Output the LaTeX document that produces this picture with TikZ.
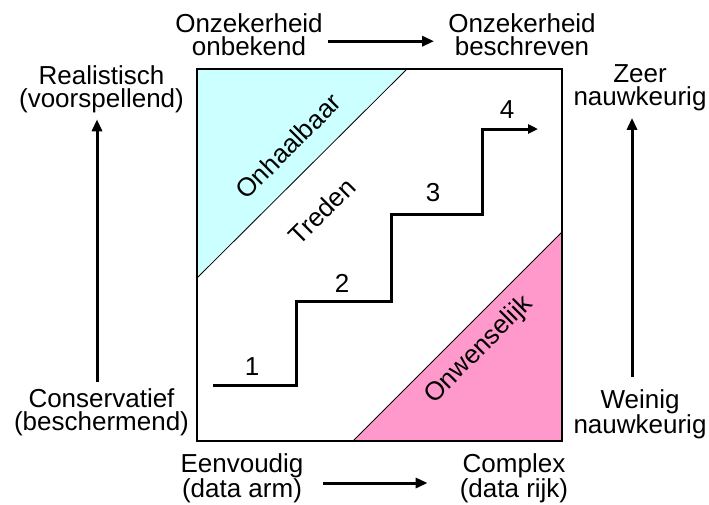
\documentclass[tikz,border=0pt]{standalone}
\usepackage{fontspec}
\setmainfont{Liberation Sans}
\usetikzlibrary{arrows.meta}
\definecolor{unreach}{RGB}{204,255,255}
\definecolor{unwanted}{RGB}{255,153,204}
\begin{document}
\begin{tikzpicture}[x=1pt,y=-1pt,
  lbl/.style={font=\fontsize{26}{23}\selectfont, align=center, inner sep=0pt},
  axisarrow/.style={line width=3pt, -{Triangle[length=12pt,width=10pt]}},
  stairline/.style={line width=3pt, line join=miter, -{Triangle[length=10pt,width=9pt]}},
  diag/.style={line width=0.8pt}]
\useasboundingbox (0,0) rectangle (709,504);

% coloured corner regions
\fill[unreach] (197,69) -- (407,69) -- (197,278) -- cycle;
\draw[diag] (407,69) -- (197,278);
\fill[unwanted] (353,441) -- (562,441) -- (562,232) -- cycle;
\draw[diag] (353,441) -- (562,232);

% frame
\draw[line width=1.8pt] (197,69) rectangle (562,441);

% region labels
\node[lbl, rotate=45] (onh) at (288,146) {Onhaalbaar};
\node[lbl, rotate=45] (tre) at (322,211) {Treden};
\node[lbl, rotate=45] (onw) at (479,350) {Onwenselijk};

% staircase
\coordinate (s0) at (213,385);
\coordinate (s1) at (296,301);
\coordinate (s2) at (391,214);
\coordinate (s3) at (482,129);
\coordinate (s4) at (538,129);
\draw[stairline] (s0) -| (s1) -| (s2) -| (s3) -- (s4);
\node[lbl] (n1) at (252,367) {1};
\node[lbl] (n2) at (342,283) {2};
\node[lbl] (n3) at (433,193) {3};
\node[lbl] (n4) at (507,110) {4};

% axis labels
\node[lbl] (tl) at (249,35.2) {Onzekerheid\\onbekend};
\node[lbl] (tr) at (522,35.2) {Onzekerheid\\beschreven};
\node[lbl] (lt) at (101.5,89) {Realistisch\\(voorspellend)};
\node[lbl] (lb) at (101.5,412) {Conservatief\\(beschermend)};
\node[lbl] (rt) at (640,88) {Zeer\\nauwkeurig};
\node[lbl] (rb) at (640,414) {Weinig\\nauwkeurig};
\node[lbl] (bl) at (242,478) {Eenvoudig\\(data arm)};
\node[lbl] (br) at (514,478) {Complex\\(data rijk)};

% axis arrows
\draw[axisarrow] ([xshift=5pt,yshift=-6pt]tl.east) -- ([xshift=-14pt,yshift=-6pt]tr.west);
\draw[axisarrow] ([xshift=19.5pt,yshift=-5pt]bl.east) -- ([xshift=-32pt,yshift=-5pt]br.west);
\draw[axisarrow] ([xshift=-4.5pt,yshift=6pt]lb.north) -- ([xshift=-4.5pt,yshift=-6.5pt]lt.south);
\draw[axisarrow] ([xshift=-8pt,yshift=12pt]rb.north) -- ([xshift=-8pt,yshift=-6.5pt]rt.south);
\end{tikzpicture}
\end{document}
